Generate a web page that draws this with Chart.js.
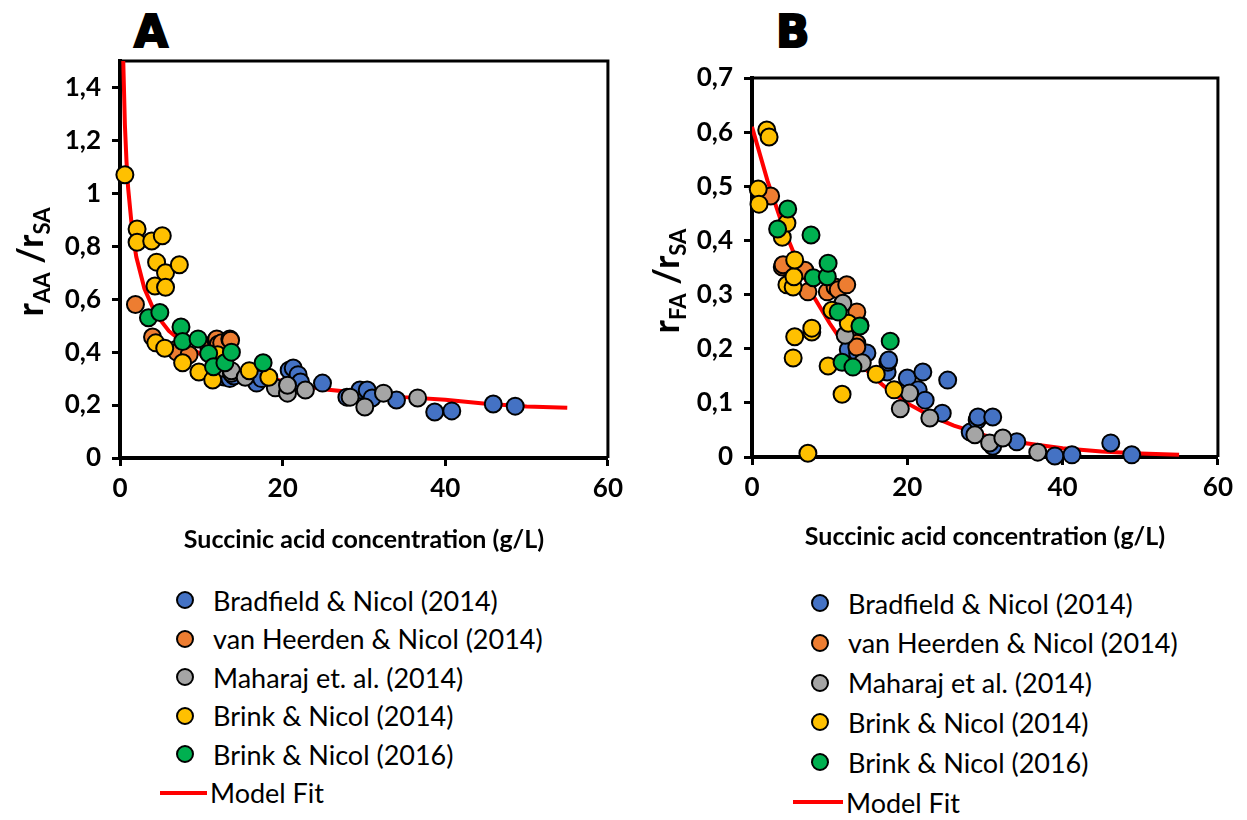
<!DOCTYPE html>
<html>
<head>
<meta charset="utf-8">
<script src="https://cdn.jsdelivr.net/npm/chart.js@4.4.1/dist/chart.umd.min.js"></script>
<style>
body { margin:0; background:#fff; width:1247px; height:820px; overflow:hidden; position:relative; font-family:Lato, sans-serif; }
.box { position:absolute; top:0; height:565px; }
#boxA { left:0; width:630px; }
#boxB { left:630px; width:610px; }
.panel { position:absolute; top:6px; font:bold 44px "DejaVu Sans", sans-serif; -webkit-text-stroke:2px #000; color:#000; }
.row { position:absolute; height:32px; display:flex; align-items:center; font-size:27px; color:#000; white-space:nowrap; }
.dot { width:14px; height:14px; border:2px solid #000; border-radius:50%; margin-right:19px; }
.fit { height:4px; background:#f00; margin-right:3px; }
</style>
</head>
<body>
<div class="panel" style="left:134px">A</div>
<div class="panel" style="left:776px">B</div>
<div class="box" id="boxA"><canvas id="chartA"></canvas></div>
<div class="box" id="boxB"><canvas id="chartB"></canvas></div>
<div id="legendA"></div>
<div id="legendB"></div>
<script>
// series names (legend B spells "et al." differently)
var namesA = ['Bradfield & Nicol (2014)', 'van Heerden & Nicol (2014)', 'Maharaj et. al. (2014)', 'Brink & Nicol (2014)', 'Brink & Nicol (2016)'];
var namesB = ['Bradfield & Nicol (2014)', 'van Heerden & Nicol (2014)', 'Maharaj et al. (2014)', 'Brink & Nicol (2014)', 'Brink & Nicol (2016)'];
var fitName = 'Model Fit';

var xTicks = [0, 20, 40, 60];
var yTicksA = [0, 0.2, 0.4, 0.6, 0.8, 1, 1.2, 1.4];
var yTicksB = [0, 0.1, 0.2, 0.3, 0.4, 0.5, 0.6, 0.7];

// panel A : rAA/rSA   [succinic acid g/L, ratio]
var aBradfield = [[12.8,0.306],[13.5,0.30],[14.0,0.31],[16.8,0.283],[17.4,0.30],[20.8,0.332],[21.3,0.34],[21.9,0.315],[22.2,0.287],[24.9,0.283],[27.9,0.23],[29.5,0.257],[30.4,0.257],[31.0,0.227],[34.0,0.219],[38.7,0.174],[40.8,0.178],[45.9,0.204],[48.6,0.196]];
var aHeerden = [[1.9,0.58],[4.0,0.457],[6.9,0.41],[7.0,0.40],[8.5,0.39],[10.9,0.42],[11.8,0.445],[11.9,0.45],[12.1,0.43],[12.5,0.435],[13.5,0.45],[13.6,0.445]];
var aMaharaj = [[12.5,0.34],[13.7,0.32],[13.7,0.33],[15.4,0.305],[19.1,0.265],[20.6,0.245],[20.6,0.275],[22.8,0.257],[28.3,0.23],[30.1,0.193],[32.4,0.245],[36.6,0.227]];
var aBrink14 = [[0.6,1.07],[2.1,0.865],[2.1,0.815],[3.9,0.82],[5.2,0.84],[4.5,0.74],[5.6,0.70],[4.3,0.65],[5.6,0.645],[7.3,0.73],[4.4,0.435],[5.5,0.415],[7.7,0.36],[9.7,0.325],[11.4,0.295],[12.0,0.39],[15.9,0.33],[18.3,0.305]];
var aBrink16 = [[3.5,0.53],[4.9,0.55],[7.5,0.495],[7.7,0.44],[9.6,0.45],[10.9,0.395],[11.5,0.345],[12.9,0.36],[13.7,0.40],[17.6,0.36]];
var aFitX = [0.4,0.6,0.8,1,1.5,2,3,4,5,6,8,10,12,15,20,25,30,35,40,45,50,55];
var aFitY = [1.50,1.26,1.12,1.02,0.86,0.76,0.64,0.57,0.52,0.48,0.43,0.39,0.36,0.33,0.29,0.26,0.245,0.23,0.22,0.205,0.195,0.19];

// panel B : rFA/rSA
var bBradfield = [[12.4,0.198],[13.6,0.192],[13.9,0.244],[14.8,0.192],[17.4,0.157],[17.5,0.175],[17.6,0.179],[20.0,0.146],[21.4,0.124],[22.0,0.157],[22.3,0.105],[24.5,0.081],[25.2,0.142],[28.1,0.046],[29.0,0.068],[29.1,0.074],[31.0,0.074],[31.0,0.02],[34.1,0.028],[39.0,0.002],[41.2,0.004],[46.2,0.026],[48.9,0.004]];
var bHeerden = [[2.4,0.482],[3.9,0.351],[4.0,0.355],[6.4,0.345],[6.8,0.345],[7.2,0.305],[9.7,0.305],[10.7,0.314],[11.1,0.309],[12.2,0.318],[13.5,0.268],[13.5,0.21],[13.5,0.203]];
var bMaharaj = [[11.7,0.284],[12.0,0.225],[14.2,0.174],[19.1,0.089],[20.3,0.118],[22.9,0.072],[28.7,0.041],[30.6,0.026],[32.3,0.035],[36.8,0.009]];
var bBrink14 = [[0.8,0.495],[0.9,0.467],[1.9,0.604],[2.2,0.591],[3.9,0.406],[4.5,0.432],[4.5,0.318],[5.3,0.314],[5.4,0.333],[5.5,0.364],[5.5,0.222],[5.3,0.183],[7.2,0.007],[7.7,0.231],[7.7,0.238],[9.8,0.168],[10.3,0.271],[11.6,0.116],[12.4,0.247],[16.0,0.153],[18.3,0.124]];
var bBrink16 = [[3.3,0.421],[4.6,0.458],[7.6,0.41],[7.9,0.331],[9.7,0.333],[9.8,0.358],[11.1,0.268],[11.6,0.175],[13.0,0.166],[13.9,0.242],[17.8,0.214]];
var bFitX = [0,2,4,6,8,10,12,14,16,18,20,23,26,30,35,40,45,50,55];
var bFitY = [0.61,0.51,0.425,0.355,0.295,0.247,0.205,0.171,0.143,0.119,0.099,0.076,0.058,0.040,0.026,0.016,0.010,0.0065,0.004];

var colors = ['#4472C4', '#ED7D31', '#A5A5A5', '#FFC000', '#00B050'];

// box lines on top and right of plot area
var framePlugin = {
	id: 'frame',
	beforeDatasetsDraw: function(chart) {
		var ctx = chart.ctx, a = chart.chartArea;
		ctx.save();
		ctx.strokeStyle = '#000';
		ctx.lineWidth = 3;
		ctx.beginPath();
		ctx.moveTo(a.left, a.top);
		ctx.lineTo(a.right, a.top);
		ctx.lineTo(a.right, a.bottom);
		ctx.stroke();
		ctx.restore();
	}
};

// rotated y title with subscripts
var ratioTitle = {
	id: 'ratioTitle',
	afterDraw: function(chart, args, o) {
		var ctx = chart.ctx;
		var parts = [['r', 'bold 36px Lato', 0], [o.sub1, 'bold 22px Lato', 7], [' /r', 'bold 36px Lato', 0], [o.sub2, 'bold 22px Lato', 7]];
		ctx.save();
		ctx.translate(o.x, o.y);
		ctx.rotate(-Math.PI / 2);
		ctx.fillStyle = '#000';
		var total = 0;
		parts.forEach(function(p) { ctx.font = p[1]; total += ctx.measureText(p[0]).width; });
		var x = -total / 2;
		parts.forEach(function(p) {
			ctx.font = p[1];
			ctx.fillText(p[0], x, p[2]);
			x += ctx.measureText(p[0]).width;
		});
		ctx.restore();
	}
};

function fmt(v) {
	return String(Math.round(v * 10) / 10).replace('.', ',');
}

function criarGrafico(id, cfg) {
	var datasets = cfg.series.map(function(pts, i) {
		return {
			label: cfg.names[i],
			data: pts.map(function(p) { return {x: p[0], y: p[1]}; }),
			backgroundColor: colors[i],
			borderColor: '#000',
			borderWidth: 2,
			pointRadius: 8.5,
			pointHoverRadius: 8.5,
			clip: false,
			order: 5 - i
		};
	});
	datasets.push({
		label: fitName,
		data: cfg.fitX.map(function(x, k) { return {x: x, y: cfg.fitY[k]}; }),
		showLine: true,
		borderColor: '#FF0000',
		borderWidth: 4,
		pointRadius: 0,
		order: 10
	});

	var tickFont = {family: 'Lato', weight: 'bold', size: 26};
	return new Chart(document.getElementById(id), {
		type: 'scatter',
		data: {datasets: datasets},
		plugins: [framePlugin, ratioTitle],
		options: {
			responsive: true,
			maintainAspectRatio: false,
			animation: false,
			layout: {padding: {top: cfg.top, right: cfg.right, left: 0, bottom: 0}},
			plugins: {
				legend: {display: false},
				tooltip: {enabled: false},
				ratioTitle: {x: cfg.titleX, y: cfg.titleY, sub1: cfg.sub1, sub2: 'SA'}
			},
			scales: {
				x: {
					type: 'linear', min: 0, max: 60,
					afterBuildTicks: function(axis) { axis.ticks = xTicks.map(function(v) { return {value: v}; }); },
					afterFit: function(s) { s.height = cfg.xH; },
					border: {display: true, color: '#000', width: 4},
					grid: {display: true, drawOnChartArea: false, drawTicks: true, tickLength: 8, tickWidth: 3, tickColor: '#000'},
					ticks: {color: '#000', font: tickFont, padding: 7, maxRotation: 0},
					title: {display: true, text: 'Succinic acid concentration (g/L)', color: '#000',
						font: {family: 'Lato', weight: 'bold', size: 25}, padding: {top: 0, bottom: cfg.titlePad}}
				},
				y: {
					type: 'linear', min: 0, max: cfg.yMax,
					afterBuildTicks: function(axis) { axis.ticks = cfg.yTicks.map(function(v) { return {value: v}; }); },
					afterFit: function(s) { s.width = cfg.yW; },
					border: {display: true, color: '#000', width: 4},
					grid: {display: true, drawOnChartArea: false, drawTicks: true, tickLength: 8, tickWidth: 3, tickColor: '#000'},
					ticks: {color: '#000', font: tickFont, padding: 11, callback: fmt}
				}
			}
		}
	});
}

function criarLegenda(id, names, left, top, step, fitLeft, fitW) {
	var el = document.getElementById(id);
	var html = '';
	names.forEach(function(n, i) {
		html += '<div class="row" style="left:' + (left - 9) + 'px;top:' + (top + i * step - 16) + 'px">' +
			'<span class="dot" style="background:' + colors[i] + '"></span>' + n.replace('&', '&amp;') + '</div>';
	});
	html += '<div class="row" style="left:' + fitLeft + 'px;top:' + (top + names.length * step - 16) + 'px">' +
		'<span class="fit" style="width:' + fitW + 'px"></span>' + fitName + '</div>';
	el.innerHTML = html;
}

criarGrafico('chartA', {
	series: [aBradfield, aHeerden, aMaharaj, aBrink14, aBrink16], names: namesA,
	fitX: aFitX, fitY: aFitY, yMax: 1.5, yTicks: yTicksA,
	top: 61, right: 16, xH: 107, yW: 120, titlePad: 10,
	titleX: 43, titleY: 262, sub1: 'AA'
});
criarGrafico('chartB', {
	series: [bBradfield, bHeerden, bMaharaj, bBrink14, bBrink16], names: namesB,
	fitX: bFitX, fitY: bFitY, yMax: 0.7, yTicks: yTicksB,
	top: 78, right: 22, xH: 108, yW: 122, titlePad: 13,
	titleX: 49, titleY: 281, sub1: 'FA'
});
criarLegenda('legendA', namesA, 185, 600, 38.5, 160, 47);
criarLegenda('legendB', namesB, 820, 603, 39.8, 793, 50);
</script>
</body>
</html>
